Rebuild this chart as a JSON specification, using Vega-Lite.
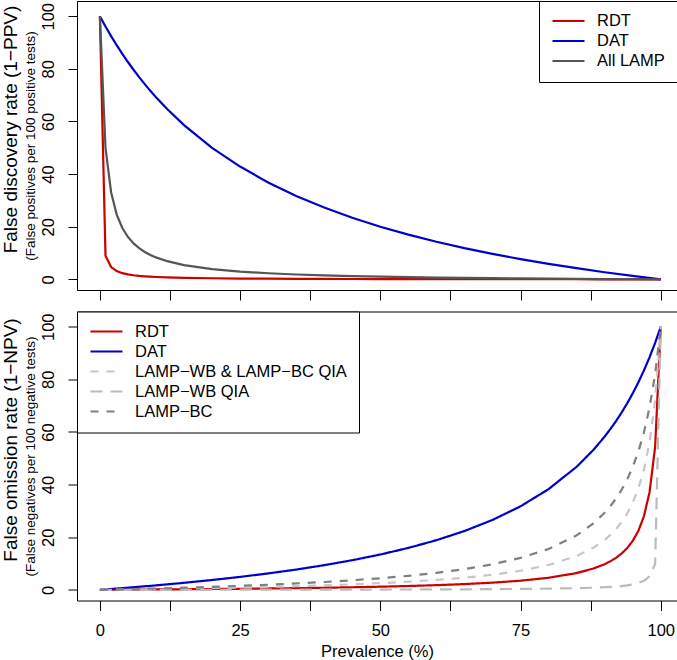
{
  "$schema": "https://vega.github.io/schema/vega-lite/v6.json",
  "padding": 0,
  "background": "white",
  "spacing": 9.5,
  "resolve": {"scale": {"color": "independent", "strokeDash": "independent"}, "legend": {"color": "independent", "strokeDash": "independent"}},
  "config": {
    "font": "Liberation Sans",
    "view": {"stroke": "black", "strokeWidth": 1},
    "axis": {"labelColor": "black", "titleColor": "black", "tickColor": "black", "domain": false, "grid": false, "titleFontWeight": "normal", "labelFlush": false, "labelOverlap": false},
    "legend": {"offset": 0, "padding": 12, "strokeColor": "black", "strokeWidth": 1, "fillColor": "white", "cornerRadius": 0, "labelFontSize": 16.5, "labelColor": "black", "labelOffset": 11, "symbolType": "stroke", "symbolSize": 1024, "symbolStrokeWidth": 2.2, "clipHeight": 16, "rowPadding": 3, "symbolOffset": 0, "labelLimit": 400}
  },
  "vconcat": [
    {
      "width": 600,
      "height": 289,
      "data": {"values": [
        {"p":0,"s":"RDT","v":100},{"p":1,"s":"RDT","v":9.01},{"p":2,"s":"RDT","v":4.67},{"p":3,"s":"RDT","v":3.13},{"p":4,"s":"RDT","v":2.34},{"p":5,"s":"RDT","v":1.86},{"p":6,"s":"RDT","v":1.54},{"p":7,"s":"RDT","v":1.31},{"p":8,"s":"RDT","v":1.14},{"p":9,"s":"RDT","v":1.0},{"p":10,"s":"RDT","v":0.89},{"p":12,"s":"RDT","v":0.73},{"p":15,"s":"RDT","v":0.56},{"p":20,"s":"RDT","v":0.4},{"p":25,"s":"RDT","v":0.3},{"p":30,"s":"RDT","v":0.23},{"p":35,"s":"RDT","v":0.19},{"p":40,"s":"RDT","v":0.15},{"p":45,"s":"RDT","v":0.12},{"p":50,"s":"RDT","v":0.1},{"p":55,"s":"RDT","v":0.08},{"p":60,"s":"RDT","v":0.07},{"p":65,"s":"RDT","v":0.05},{"p":70,"s":"RDT","v":0.04},{"p":75,"s":"RDT","v":0.03},{"p":80,"s":"RDT","v":0.02},{"p":85,"s":"RDT","v":0.02},{"p":90,"s":"RDT","v":0.01},{"p":95,"s":"RDT","v":0.01},{"p":100,"s":"RDT","v":0},
        {"p":0,"s":"DAT","v":100},{"p":1,"s":"DAT","v":96.12},{"p":2,"s":"DAT","v":92.45},{"p":3,"s":"DAT","v":88.99},{"p":4,"s":"DAT","v":85.71},{"p":5,"s":"DAT","v":82.61},{"p":6,"s":"DAT","v":79.66},{"p":7,"s":"DAT","v":76.86},{"p":8,"s":"DAT","v":74.19},{"p":9,"s":"DAT","v":71.65},{"p":10,"s":"DAT","v":69.23},{"p":12,"s":"DAT","v":64.71},{"p":15,"s":"DAT","v":58.62},{"p":20,"s":"DAT","v":50},{"p":25,"s":"DAT","v":42.86},{"p":30,"s":"DAT","v":36.84},{"p":35,"s":"DAT","v":31.71},{"p":40,"s":"DAT","v":27.27},{"p":45,"s":"DAT","v":23.4},{"p":50,"s":"DAT","v":20},{"p":55,"s":"DAT","v":16.98},{"p":60,"s":"DAT","v":14.29},{"p":65,"s":"DAT","v":11.86},{"p":70,"s":"DAT","v":9.68},{"p":75,"s":"DAT","v":7.69},{"p":80,"s":"DAT","v":5.88},{"p":85,"s":"DAT","v":4.23},{"p":90,"s":"DAT","v":2.7},{"p":95,"s":"DAT","v":1.3},{"p":100,"s":"DAT","v":0},
        {"p":0,"s":"All LAMP","v":100},{"p":1,"s":"All LAMP","v":50.0},{"p":2,"s":"All LAMP","v":33.11},{"p":3,"s":"All LAMP","v":24.62},{"p":4,"s":"All LAMP","v":19.51},{"p":5,"s":"All LAMP","v":16.1},{"p":6,"s":"All LAMP","v":13.66},{"p":7,"s":"All LAMP","v":11.83},{"p":8,"s":"All LAMP","v":10.41},{"p":9,"s":"All LAMP","v":9.27},{"p":10,"s":"All LAMP","v":8.33},{"p":12,"s":"All LAMP","v":6.9},{"p":15,"s":"All LAMP","v":5.41},{"p":20,"s":"All LAMP","v":3.88},{"p":25,"s":"All LAMP","v":2.94},{"p":30,"s":"All LAMP","v":2.3},{"p":35,"s":"All LAMP","v":1.84},{"p":40,"s":"All LAMP","v":1.49},{"p":45,"s":"All LAMP","v":1.22},{"p":50,"s":"All LAMP","v":1.0},{"p":55,"s":"All LAMP","v":0.82},{"p":60,"s":"All LAMP","v":0.67},{"p":65,"s":"All LAMP","v":0.54},{"p":70,"s":"All LAMP","v":0.43},{"p":75,"s":"All LAMP","v":0.34},{"p":80,"s":"All LAMP","v":0.25},{"p":85,"s":"All LAMP","v":0.18},{"p":90,"s":"All LAMP","v":0.11},{"p":95,"s":"All LAMP","v":0.05},{"p":100,"s":"All LAMP","v":0}
      ]},
      "layer": [
        {
          "mark": {"type": "line", "strokeWidth": 2.2},
          "encoding": {
            "x": {"field": "p", "type": "quantitative", "scale": {"domain": [-4.08, 102.9], "nice": false, "zero": false},
                  "axis": {"values": [0, 12.5, 25, 37.5, 50, 62.5, 75, 87.5, 100], "labels": false, "tickSize": 10, "title": null}},
            "y": {"field": "v", "type": "quantitative", "scale": {"domain": [-4.06, 105.8], "nice": false, "zero": false},
                  "axis": {"orient": "left", "values": [0, 20, 40, 60, 80, 100], "tickSize": 9, "labelAngle": 270, "labelAlign": "center", "labelBaseline": "bottom", "labelPadding": 12, "labelFontSize": 16.5, "title": "(False positives per 100 positive tests)", "titleFontSize": 13.5, "titlePadding": 3, "titleAngle": 270, "titleBaseline": "bottom", "minExtent": 0, "maxExtent": 200}},
            "color": {"field": "s", "type": "nominal", "scale": {"domain": ["RDT", "DAT", "All LAMP"], "range": ["#CD0000", "#0000CD", "#555555"]},
                      "legend": {"title": null, "orient": "top-right"}}
          }
        },
        {
          "mark": {"type": "point", "opacity": 0},
          "encoding": {
            "y": {"field": "v", "type": "quantitative", "scale": {"domain": [-4.06, 105.8], "nice": false, "zero": false},
                  "axis": {"orient": "left", "title": "False discovery rate (1\u2212PPV)", "titleFontSize": 19, "titleAngle": 270, "titleBaseline": "bottom", "titlePadding": 57, "titleY": 128, "ticks": false, "labels": false, "domain": false, "grid": false, "minExtent": 0, "maxExtent": 0}}
          }
        }
      ],
      "resolve": {"scale": {"y": "independent"}, "axis": {"y": "independent"}}
    },
    {
      "width": 600,
      "height": 289,
      "data": {"values": [
        {"p":0,"s":"RDT","v":0},{"p":5,"s":"RDT","v":0.06},{"p":10,"s":"RDT","v":0.13},{"p":15,"s":"RDT","v":0.21},{"p":20,"s":"RDT","v":0.3},{"p":25,"s":"RDT","v":0.4},{"p":30,"s":"RDT","v":0.51},{"p":35,"s":"RDT","v":0.64},{"p":40,"s":"RDT","v":0.79},{"p":45,"s":"RDT","v":0.97},{"p":50,"s":"RDT","v":1.19},{"p":55,"s":"RDT","v":1.45},{"p":60,"s":"RDT","v":1.77},{"p":65,"s":"RDT","v":2.18},{"p":70,"s":"RDT","v":2.72},{"p":75,"s":"RDT","v":3.47},{"p":80,"s":"RDT","v":4.58},{"p":85,"s":"RDT","v":6.37},{"p":88,"s":"RDT","v":8.09},{"p":90,"s":"RDT","v":9.75},{"p":91,"s":"RDT","v":10.82},{"p":92,"s":"RDT","v":12.13},{"p":93,"s":"RDT","v":13.75},{"p":94,"s":"RDT","v":15.82},{"p":95,"s":"RDT","v":18.57},{"p":96,"s":"RDT","v":22.36},{"p":97,"s":"RDT","v":27.95},{"p":98,"s":"RDT","v":37.03},{"p":99,"s":"RDT","v":54.3},{"p":100,"s":"RDT","v":100},
        {"p":0,"s":"DAT","v":0},{"p":5,"s":"DAT","v":0.81},{"p":10,"s":"DAT","v":1.69},{"p":15,"s":"DAT","v":2.66},{"p":20,"s":"DAT","v":3.73},{"p":25,"s":"DAT","v":4.91},{"p":30,"s":"DAT","v":6.23},{"p":35,"s":"DAT","v":7.7},{"p":40,"s":"DAT","v":9.37},{"p":45,"s":"DAT","v":11.25},{"p":50,"s":"DAT","v":13.42},{"p":55,"s":"DAT","v":15.93},{"p":60,"s":"DAT","v":18.86},{"p":65,"s":"DAT","v":22.35},{"p":70,"s":"DAT","v":26.56},{"p":75,"s":"DAT","v":31.74},{"p":80,"s":"DAT","v":38.27},{"p":85,"s":"DAT","v":46.76},{"p":88,"s":"DAT","v":53.2},{"p":90,"s":"DAT","v":58.25},{"p":91,"s":"DAT","v":61.05},{"p":92,"s":"DAT","v":64.06},{"p":93,"s":"DAT","v":67.31},{"p":94,"s":"DAT","v":70.83},{"p":95,"s":"DAT","v":74.65},{"p":96,"s":"DAT","v":78.81},{"p":97,"s":"DAT","v":83.37},{"p":98,"s":"DAT","v":88.37},{"p":99,"s":"DAT","v":93.88},{"p":100,"s":"DAT","v":100},
        {"p":0,"s":"LAMP\u2212WB & LAMP\u2212BC QIA","v":0},{"p":5,"s":"LAMP\u2212WB & LAMP\u2212BC QIA","v":0.14},{"p":10,"s":"LAMP\u2212WB & LAMP\u2212BC QIA","v":0.29},{"p":15,"s":"LAMP\u2212WB & LAMP\u2212BC QIA","v":0.46},{"p":20,"s":"LAMP\u2212WB & LAMP\u2212BC QIA","v":0.65},{"p":25,"s":"LAMP\u2212WB & LAMP\u2212BC QIA","v":0.86},{"p":30,"s":"LAMP\u2212WB & LAMP\u2212BC QIA","v":1.1},{"p":35,"s":"LAMP\u2212WB & LAMP\u2212BC QIA","v":1.38},{"p":40,"s":"LAMP\u2212WB & LAMP\u2212BC QIA","v":1.7},{"p":45,"s":"LAMP\u2212WB & LAMP\u2212BC QIA","v":2.08},{"p":50,"s":"LAMP\u2212WB & LAMP\u2212BC QIA","v":2.53},{"p":55,"s":"LAMP\u2212WB & LAMP\u2212BC QIA","v":3.08},{"p":60,"s":"LAMP\u2212WB & LAMP\u2212BC QIA","v":3.75},{"p":65,"s":"LAMP\u2212WB & LAMP\u2212BC QIA","v":4.61},{"p":70,"s":"LAMP\u2212WB & LAMP\u2212BC QIA","v":5.72},{"p":75,"s":"LAMP\u2212WB & LAMP\u2212BC QIA","v":7.24},{"p":80,"s":"LAMP\u2212WB & LAMP\u2212BC QIA","v":9.42},{"p":85,"s":"LAMP\u2212WB & LAMP\u2212BC QIA","v":12.84},{"p":88,"s":"LAMP\u2212WB & LAMP\u2212BC QIA","v":16.01},{"p":90,"s":"LAMP\u2212WB & LAMP\u2212BC QIA","v":18.96},{"p":91,"s":"LAMP\u2212WB & LAMP\u2212BC QIA","v":20.82},{"p":92,"s":"LAMP\u2212WB & LAMP\u2212BC QIA","v":23.02},{"p":93,"s":"LAMP\u2212WB & LAMP\u2212BC QIA","v":25.67},{"p":94,"s":"LAMP\u2212WB & LAMP\u2212BC QIA","v":28.94},{"p":95,"s":"LAMP\u2212WB & LAMP\u2212BC QIA","v":33.07},{"p":96,"s":"LAMP\u2212WB & LAMP\u2212BC QIA","v":38.42},{"p":97,"s":"LAMP\u2212WB & LAMP\u2212BC QIA","v":45.67},{"p":98,"s":"LAMP\u2212WB & LAMP\u2212BC QIA","v":56.02},{"p":99,"s":"LAMP\u2212WB & LAMP\u2212BC QIA","v":72.02},{"p":100,"s":"LAMP\u2212WB & LAMP\u2212BC QIA","v":100},
        {"p":0,"s":"LAMP\u2212WB QIA","v":0},{"p":5,"s":"LAMP\u2212WB QIA","v":0.01},{"p":10,"s":"LAMP\u2212WB QIA","v":0.01},{"p":15,"s":"LAMP\u2212WB QIA","v":0.02},{"p":20,"s":"LAMP\u2212WB QIA","v":0.03},{"p":25,"s":"LAMP\u2212WB QIA","v":0.04},{"p":30,"s":"LAMP\u2212WB QIA","v":0.05},{"p":35,"s":"LAMP\u2212WB QIA","v":0.06},{"p":40,"s":"LAMP\u2212WB QIA","v":0.07},{"p":45,"s":"LAMP\u2212WB QIA","v":0.09},{"p":50,"s":"LAMP\u2212WB QIA","v":0.11},{"p":55,"s":"LAMP\u2212WB QIA","v":0.13},{"p":60,"s":"LAMP\u2212WB QIA","v":0.16},{"p":65,"s":"LAMP\u2212WB QIA","v":0.2},{"p":70,"s":"LAMP\u2212WB QIA","v":0.26},{"p":75,"s":"LAMP\u2212WB QIA","v":0.33},{"p":80,"s":"LAMP\u2212WB QIA","v":0.44},{"p":85,"s":"LAMP\u2212WB QIA","v":0.62},{"p":88,"s":"LAMP\u2212WB QIA","v":0.8},{"p":90,"s":"LAMP\u2212WB QIA","v":0.98},{"p":91,"s":"LAMP\u2212WB QIA","v":1.1},{"p":92,"s":"LAMP\u2212WB QIA","v":1.25},{"p":93,"s":"LAMP\u2212WB QIA","v":1.44},{"p":94,"s":"LAMP\u2212WB QIA","v":1.69},{"p":95,"s":"LAMP\u2212WB QIA","v":2.05},{"p":96,"s":"LAMP\u2212WB QIA","v":2.57},{"p":97,"s":"LAMP\u2212WB QIA","v":3.43},{"p":98,"s":"LAMP\u2212WB QIA","v":5.11},{"p":99,"s":"LAMP\u2212WB QIA","v":9.82},{"p":100,"s":"LAMP\u2212WB QIA","v":100},
        {"p":0,"s":"LAMP\u2212BC","v":0},{"p":5,"s":"LAMP\u2212BC","v":0.24},{"p":10,"s":"LAMP\u2212BC","v":0.51},{"p":15,"s":"LAMP\u2212BC","v":0.81},{"p":20,"s":"LAMP\u2212BC","v":1.14},{"p":25,"s":"LAMP\u2212BC","v":1.51},{"p":30,"s":"LAMP\u2212BC","v":1.93},{"p":35,"s":"LAMP\u2212BC","v":2.42},{"p":40,"s":"LAMP\u2212BC","v":2.98},{"p":45,"s":"LAMP\u2212BC","v":3.63},{"p":50,"s":"LAMP\u2212BC","v":4.4},{"p":55,"s":"LAMP\u2212BC","v":5.32},{"p":60,"s":"LAMP\u2212BC","v":6.45},{"p":65,"s":"LAMP\u2212BC","v":7.87},{"p":70,"s":"LAMP\u2212BC","v":9.69},{"p":75,"s":"LAMP\u2212BC","v":12.13},{"p":80,"s":"LAMP\u2212BC","v":15.54},{"p":85,"s":"LAMP\u2212BC","v":20.68},{"p":88,"s":"LAMP\u2212BC","v":25.22},{"p":90,"s":"LAMP\u2212BC","v":29.28},{"p":91,"s":"LAMP\u2212BC","v":31.75},{"p":92,"s":"LAMP\u2212BC","v":34.6},{"p":93,"s":"LAMP\u2212BC","v":37.93},{"p":94,"s":"LAMP\u2212BC","v":41.88},{"p":95,"s":"LAMP\u2212BC","v":46.64},{"p":96,"s":"LAMP\u2212BC","v":52.47},{"p":97,"s":"LAMP\u2212BC","v":59.8},{"p":98,"s":"LAMP\u2212BC","v":69.27},{"p":99,"s":"LAMP\u2212BC","v":81.99},{"p":100,"s":"LAMP\u2212BC","v":100}
      ]},
      "layer": [
        {
          "mark": {"type": "line", "strokeWidth": 2.2},
          "encoding": {
            "x": {"field": "p", "type": "quantitative", "scale": {"domain": [-4.08, 102.9], "nice": false, "zero": false},
                  "axis": {"values": [0, 12.5, 25, 37.5, 50, 62.5, 75, 87.5, 100], "labelExpr": "datum.value % 25 === 0 ? datum.label : ''", "tickSize": 10, "labelPadding": 12, "labelFontSize": 16.5, "labelAngle": 0, "labelAlign": "center", "labelBaseline": "top", "title": "Prevalence (%)", "titleFontSize": 16.5, "titlePadding": 4.5, "titleBaseline": "top"}},
            "y": {"field": "v", "type": "quantitative", "scale": {"domain": [-4.06, 105.8], "nice": false, "zero": false},
                  "axis": {"orient": "left", "values": [0, 20, 40, 60, 80, 100], "tickSize": 9, "labelAngle": 270, "labelAlign": "center", "labelBaseline": "bottom", "labelPadding": 12, "labelFontSize": 16.5, "title": "(False negatives per 100 negative tests)", "titleFontSize": 13.5, "titlePadding": 3, "titleAngle": 270, "titleBaseline": "bottom", "minExtent": 0, "maxExtent": 200}},
            "color": {"field": "s", "type": "nominal",
                      "scale": {"domain": ["RDT", "DAT", "LAMP\u2212WB & LAMP\u2212BC QIA", "LAMP\u2212WB QIA", "LAMP\u2212BC"], "range": ["#CD0000", "#0000CD", "#C6C6C6", "#BBBBBB", "#7F7F7F"]},
                      "legend": {"title": null, "orient": "top-left"}},
            "strokeDash": {"field": "s", "type": "nominal",
                      "scale": {"domain": ["RDT", "DAT", "LAMP\u2212WB & LAMP\u2212BC QIA", "LAMP\u2212WB QIA", "LAMP\u2212BC"], "range": [[1, 0], [1, 0], [8, 8], [12, 8], [8, 8]]},
                      "legend": {"title": null, "orient": "top-left"}}
          }
        },
        {
          "mark": {"type": "point", "opacity": 0},
          "encoding": {
            "y": {"field": "v", "type": "quantitative", "scale": {"domain": [-4.06, 105.8], "nice": false, "zero": false},
                  "axis": {"orient": "left", "title": "False omission rate (1\u2212NPV)", "titleFontSize": 19, "titleAngle": 270, "titleBaseline": "bottom", "titlePadding": 57, "titleY": 128, "ticks": false, "labels": false, "domain": false, "grid": false, "minExtent": 0, "maxExtent": 0}}
          }
        }
      ],
      "resolve": {"scale": {"y": "independent"}, "axis": {"y": "independent"}}
    }
  ]
}
